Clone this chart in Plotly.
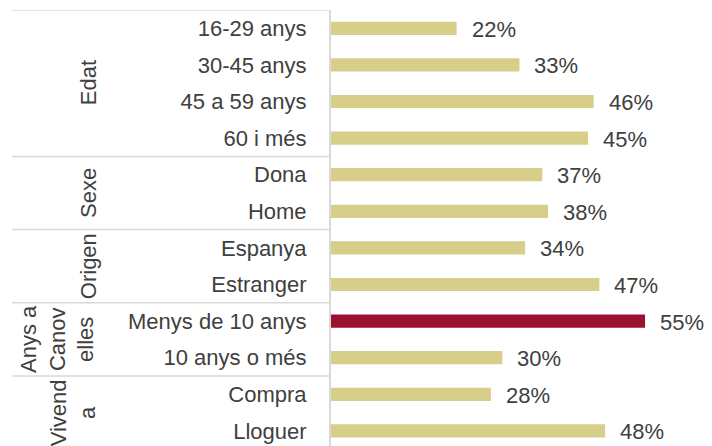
import plotly.graph_objects as go

# Share of respondents by group (values in %)
categories = ["16-29 anys", "30-45 anys", "45 a 59 anys", "60 i més",
              "Dona", "Home",
              "Espanya", "Estranger",
              "Menys de 10 anys", "10 anys o més",
              "Compra", "Lloguer"]
values = [22, 33, 46, 45, 37, 38, 34, 47, 55, 30, 28, 48]
groups = ["Edat", "Sexe", "Origen", "Anys a<br>Canov<br>elles", "Vivend<br>a"]
group_sizes = [4, 2, 2, 2, 2]
highlight = "Menys de 10 anys"

TAN = "#D7CE89"
RED = "#9C1130"
GRID = "#D9D9D9"
TEXT = "#404040"
FONT = "Liberation Sans, Arial, sans-serif"

# page body has an 8px margin, so the figure is drawn 8px smaller / shifted
PAGE_PAD = 8
W, H = 712 - PAGE_PAD, 446 - PAGE_PAD
LEFT, TOP = 331 - PAGE_PAD, 10 - PAGE_PAD
plot_w = W - LEFT
plot_h = H - TOP
row_px = 36.6
px_per_pct = 5.71

def paper_x(px):
    # px given in screen pixels of the reference
    return (px - PAGE_PAD - LEFT) / plot_w

ypos = list(range(len(categories)))
colors = [RED if c == highlight else TAN for c in categories]

fig = go.Figure()
fig.add_trace(go.Bar(
    x=values, y=ypos, orientation="h",
    width=0.36,
    marker=dict(color=colors, line=dict(width=0)),
    hoverinfo="skip",
))

annotations = []
# value labels
for v, y in zip(values, ypos):
    annotations.append(dict(
        x=v, y=y, xref="x", yref="y", text=f"{v}%",
        showarrow=False, xanchor="left", yanchor="middle", xshift=13, yshift=-1,
        font=dict(family=FONT, size=22, color=TEXT),
    ))

# group labels and separators
shapes = []
start = 0
x_line0 = paper_x(12)
for g, n in zip(groups, group_sizes):
    nlines = g.count("<br>") + 1
    center_px = 88 - (nlines - 1) * 30.5 / 2
    annotations.append(dict(
        x=paper_x(center_px), y=start + (n - 1) / 2, xref="paper", yref="y",
        text=g, textangle=-90, showarrow=False,
        xanchor="center", yanchor="middle",
        font=dict(family=FONT, size=22, color=TEXT),
    ))
    shapes.append(dict(
        type="line", xref="paper", yref="y",
        x0=x_line0, x1=0, y0=start - 0.5, y1=start - 0.5,
        line=dict(color=GRID, width=1.5),
    ))
    start += n

fig.update_layout(
    width=W, height=H,
    margin=dict(l=LEFT, r=0, t=TOP, b=0, pad=0),
    plot_bgcolor="white", paper_bgcolor="white",
    showlegend=False,
    annotations=annotations,
    shapes=shapes,
    font=dict(family=FONT, size=22, color=TEXT),
)
fig.update_xaxes(
    range=[0, plot_w / px_per_pct],
    visible=False, showgrid=False, zeroline=False,
)
fig.update_yaxes(
    range=[-0.5 + plot_h / row_px, -0.5],
    tickvals=ypos, ticktext=categories,
    showgrid=False, zeroline=False,
    showline=True, linecolor=GRID, linewidth=2,
    ticks="", ticklabelstandoff=18, automargin=False,
    tickfont=dict(family=FONT, size=22, color=TEXT),
)

fig.write_html("out.html")
